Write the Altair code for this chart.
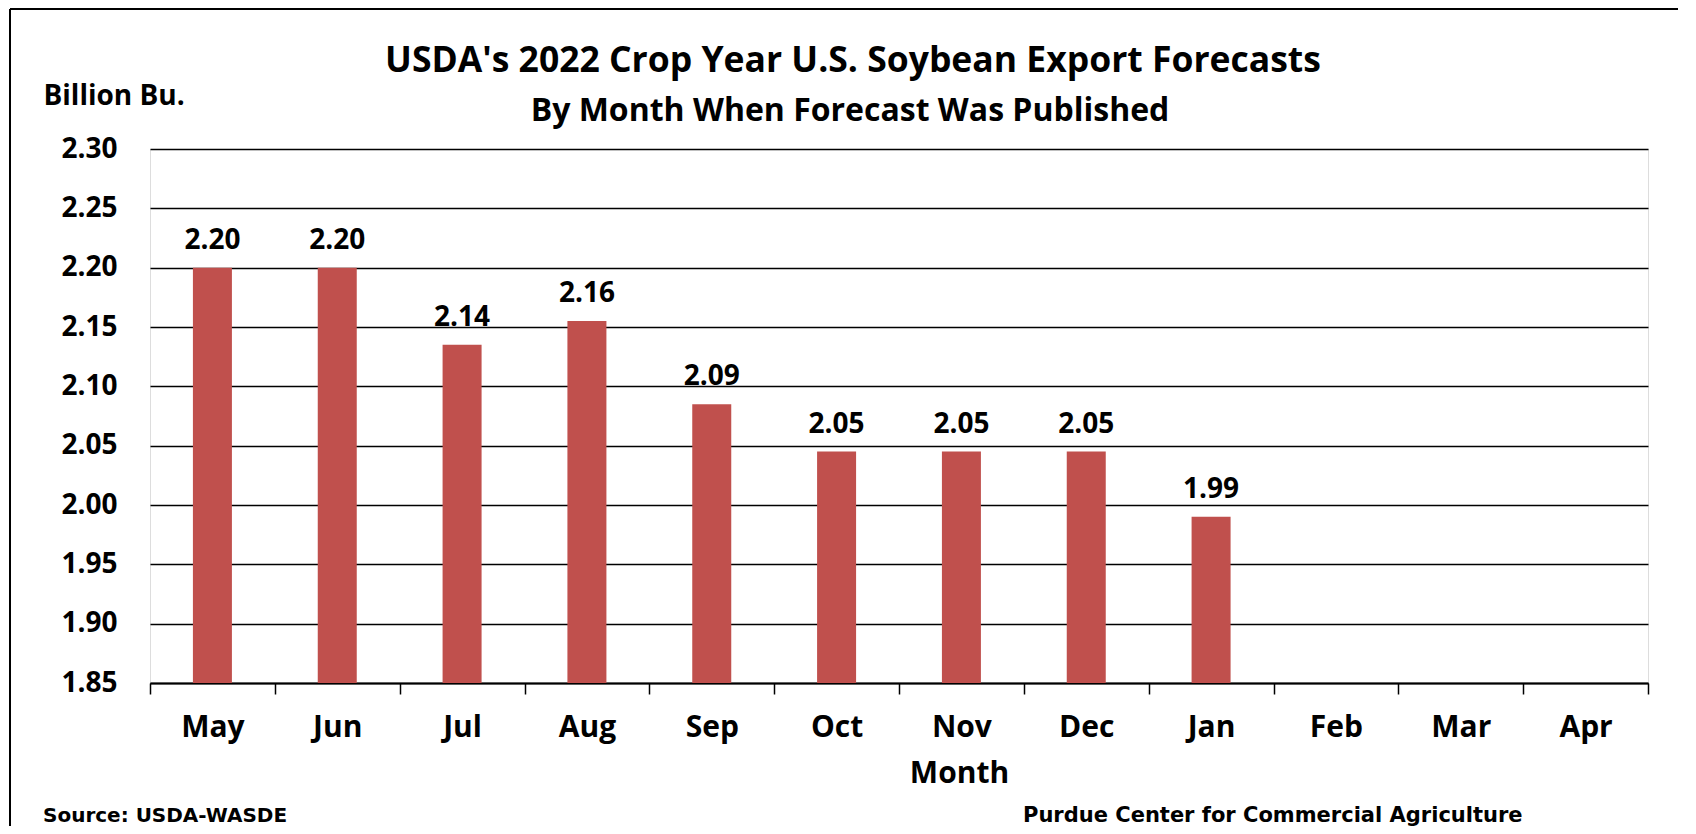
import altair as alt
import pandas as pd

months = ["May", "Jun", "Jul", "Aug", "Sep", "Oct", "Nov", "Dec", "Jan", "Feb", "Mar", "Apr"]
values = [2.20, 2.20, 2.135, 2.155, 2.085, 2.045, 2.045, 2.045, 1.99, None, None, None]
labels = ["2.20", "2.20", "2.14", "2.16", "2.09", "2.05", "2.05", "2.05", "1.99", "", "", ""]
y_ticks = [1.85, 1.90, 1.95, 2.00, 2.05, 2.10, 2.15, 2.20, 2.25, 2.30]

title_text = "USDA's 2022 Crop Year U.S. Soybean Export Forecasts"
subtitle_text = "By Month When Forecast Was Published"
notes = ["Source: USDA-WASDE", "Purdue Center for Commercial Agriculture"]

FONT = "Open Sans"
NOTE_FONT = "DejaVu Sans"
W, H = 1498, 534

df = pd.DataFrame({"month": months, "value": values, "label": labels})

x = alt.X("month:N", sort=months, title="Month",
          scale=alt.Scale(paddingInner=0, paddingOuter=0),
          axis=alt.Axis(labelAngle=0, tickBand="extent", tickSize=11, tickColor="black",
                        tickWidth=1.5, domainColor="black", domainWidth=2,
                        labelFont=FONT, labelFontSize=30, labelFontWeight="bold",
                        labelColor="black", labelPadding=18,
                        titleFont=FONT, titleFontSize=30, titleFontWeight="bold",
                        titleColor="black", titleX=809, titleY=90, titleBaseline="middle"))

bars = alt.Chart(df).mark_bar(size=39, color="#C0504D").encode(
    x=x,
    y=alt.Y("value:Q", title="Billion Bu.",
            scale=alt.Scale(domain=[1.85, 2.30], zero=False, nice=False),
            axis=alt.Axis(values=y_ticks, format=".2f", grid=True, gridColor="black",
                          gridWidth=1.5, domain=False, ticks=False,
                          labelFont=FONT, labelFontSize=28, labelFontWeight="bold",
                          labelColor="black", labelPadding=33,
                          titleFont=FONT, titleFontSize=28, titleFontWeight="bold",
                          titleColor="black", titleAngle=0, titleAlign="left",
                          titleBaseline="middle", titleX=-107, titleY=-53)),
    y2=alt.datum(1.85),
)

text = alt.Chart(df).mark_text(font=FONT, fontSize=28, fontWeight="bold", color="black",
                               baseline="alphabetic", dy=-19).encode(
    x=alt.X("month:N", sort=months),
    y=alt.Y("value:Q"),
    text="label:N",
)

notes_df = pd.DataFrame({"note": notes, "px": [-107, 873], "fs": [20, 21]})
note_marks = alt.Chart(notes_df).mark_text(font=NOTE_FONT, fontWeight="bold",
                                           color="black", align="left",
                                           baseline="alphabetic").encode(
    x=alt.X("px:Q", scale=None),
    y=alt.value(H + 139),
    size=alt.Size("fs:Q", scale=None, legend=None),
    text="note:N",
)

title_df = pd.DataFrame({"t": [title_text]})
title_mark = alt.Chart(title_df).mark_text(font=FONT, fontSize=35.5, fontWeight="bold",
                                           color="black", align="center",
                                           baseline="alphabetic").encode(
    x=alt.value(703), y=alt.value(-77), text="t:N")

sub_df = pd.DataFrame({"t": [subtitle_text]})
sub_mark = alt.Chart(sub_df).mark_text(font=FONT, fontSize=32, fontWeight="bold",
                                       color="black", align="center",
                                       baseline="alphabetic").encode(
    x=alt.value(700), y=alt.value(-28), text="t:N")

frame_top = alt.Chart(title_df).mark_rule(color="black", strokeWidth=2).encode(
    x=alt.value(-140), x2=alt.value(W + 60), y=alt.value(-140))
frame_left = alt.Chart(title_df).mark_rule(color="black", strokeWidth=2).encode(
    x=alt.value(-140), y=alt.value(-140), y2=alt.value(H + 160))

chart = alt.layer(bars, text, note_marks, title_mark, sub_mark, frame_top, frame_left).properties(
    width=W, height=H,
    padding={"left": 142, "top": 141, "right": 30, "bottom": 143},
    autosize=alt.AutoSizeParams(type="none"),
).configure_view(stroke="black", strokeWidth=2).configure(background="white")

chart.save("out.html", embed_options={"renderer": "svg", "actions": False})
